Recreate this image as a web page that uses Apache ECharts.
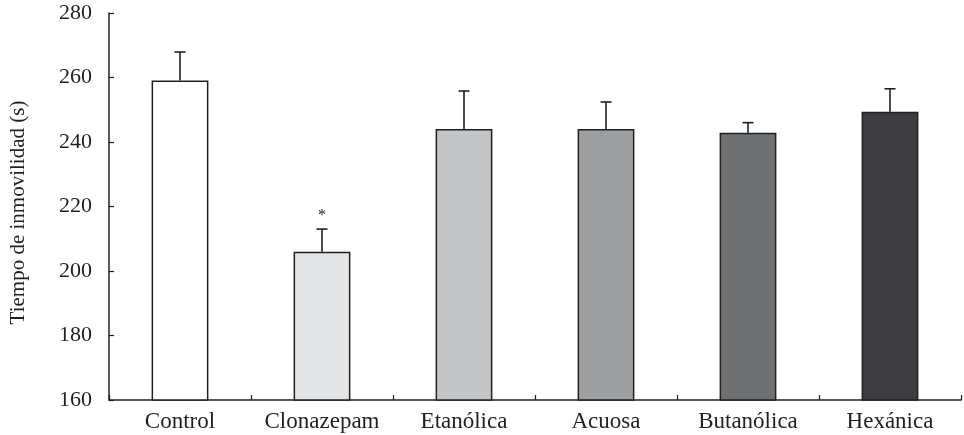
<!DOCTYPE html>
<html>
<head>
<meta charset="utf-8">
<script src="https://cdn.jsdelivr.net/npm/echarts@6/dist/echarts.min.js"></script>
<style>
html,body{margin:0;padding:0;background:#fff;}
#c{width:964px;height:435px;}
</style>
</head>
<body>
<div id="c"></div>
<script>
const categories = ['Control', 'Clonazepam', 'Etanólica', 'Acuosa', 'Butanólica', 'Hexánica'];
const means = [259.1, 206.0, 244.0, 244.0, 242.9, 249.4];
const errors = [8.8, 7.0, 11.8, 8.4, 3.1, 7.1];
const marks = ['', '*', '', '', '', ''];
const barColors = ['#ffffff', '#e3e4e6', '#c4c5c7', '#9d9ea0', '#6f7072', '#3d3d3f'];
const yTicks = [160, 180, 200, 220, 240, 260, 280];

const ink = '#231f20';
const font = '"Liberation Serif", "DejaVu Serif", serif';

const chart = echarts.init(document.getElementById('c'));
chart.setOption({
  animation: false,
  backgroundColor: '#fff',
  grid: { left: 109, right: 3, top: 13, bottom: 35, containLabel: false, outerBoundsMode: 'none' },
  xAxis: {
    type: 'category',
    data: categories,
    axisLine: { lineStyle: { color: ink, width: 1.5 } },
    axisTick: { show: true, inside: true, length: 5, lineStyle: { color: ink, width: 1.2 } },
    axisLabel: { color: ink, fontFamily: font, fontSize: 23, margin: 10, interval: 0 }
  },
  yAxis: {
    type: 'value',
    min: yTicks[0],
    max: yTicks[yTicks.length - 1],
    interval: 20,
    name: 'Tiempo de inmovilidad (s)',
    nameLocation: 'middle',
    nameGap: 80,
    nameTextStyle: { color: ink, fontFamily: font, fontSize: 21, padding: [0, 12, 0, 0] },
    axisLine: { show: true, lineStyle: { color: ink, width: 1.5 } },
    axisTick: { show: true, inside: true, length: 5, lineStyle: { color: ink, width: 1.2 } },
    axisLabel: { color: ink, fontFamily: font, fontSize: 22, margin: 17 },
    splitLine: { show: false }
  },
  series: [
    {
      type: 'bar',
      barWidth: '40%',
      data: means.map((v, i) => ({
        value: v,
        itemStyle: { color: barColors[i], borderColor: ink, borderWidth: 1.5 }
      })),
      z: 2
    },
    {
      type: 'custom',
      data: means.map((v, i) => [i, v, v + errors[i]]),
      renderItem: function (params, api) {
        const i = api.value(0);
        const base = api.coord([i, api.value(1)]);
        const top = api.coord([i, api.value(2)]);
        const half = 5.5;
        const children = [
          { type: 'line', shape: { x1: base[0], y1: base[1], x2: top[0], y2: top[1] }, style: { stroke: ink, lineWidth: 1.6 } },
          { type: 'line', shape: { x1: top[0] - half, y1: top[1], x2: top[0] + half, y2: top[1] }, style: { stroke: ink, lineWidth: 1.6 } }
        ];
        if (marks[i]) {
          children.push({
            type: 'text',
            style: { text: marks[i], x: top[0], y: top[1] - 13, align: 'center', verticalAlign: 'middle', fill: ink, font: '16px ' + font }
          });
        }
        return { type: 'group', children: children };
      },
      z: 3
    }
  ]
});
</script>
</body>
</html>
